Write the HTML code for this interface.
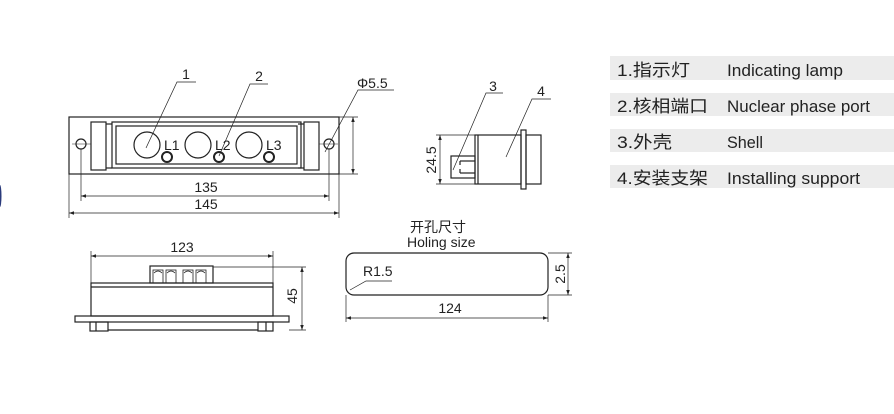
<!DOCTYPE html>
<html><head><meta charset="utf-8"><style>
html,body{margin:0;padding:0;background:#fff;}
svg{display:block;}
text{font-family:"Liberation Sans","Noto Sans CJK SC",sans-serif;fill:#222;}
</style></head><body>
<svg width="894" height="414" viewBox="0 0 894 414" xmlns="http://www.w3.org/2000/svg">
<defs>
<marker id="a" viewBox="0 0 10 10" refX="10" refY="5" markerWidth="7" markerHeight="5" orient="auto-start-reverse" markerUnits="userSpaceOnUse"><path d="M0,1.5 L10,5 L0,8.5 z" fill="#222"/></marker>
</defs>
<ellipse cx="0" cy="196" rx="1.5" ry="11" fill="#2a3a7b"/>
<g fill="none" stroke="#222" stroke-width="1.2">
<rect x="69" y="117" width="270" height="57"/>
<rect x="91" y="122" width="15" height="48"/>
<rect x="304" y="122" width="15" height="48"/>
<line x1="106" y1="124" x2="112" y2="124"/><line x1="106" y1="168" x2="112" y2="168"/>
<line x1="298" y1="124" x2="304" y2="124"/><line x1="298" y1="168" x2="304" y2="168"/>
<rect x="112" y="122" width="189" height="46"/>
<rect x="116" y="126" width="181" height="38"/>
<circle cx="147" cy="145" r="13"/><circle cx="198" cy="145" r="13"/><circle cx="249" cy="145" r="13"/>
<circle cx="167" cy="157" r="5" stroke-width="2"/><circle cx="219" cy="157" r="5" stroke-width="2"/><circle cx="269" cy="157" r="5" stroke-width="2"/>
<circle cx="81" cy="144" r="5"/><circle cx="329" cy="144" r="5"/>
<line x1="72" y1="144" x2="91" y2="144" stroke-width="0.6"/><line x1="319" y1="144" x2="338" y2="144" stroke-width="0.6"/>
<g stroke-width="0.7">
<polyline points="146,148 177,82 196,82"/>
<polyline points="219,156 250,84 268,84"/>
<polyline points="325,152 358,90 394,90"/>
<line x1="339" y1="117" x2="358" y2="117"/><line x1="339" y1="174" x2="358" y2="174"/>
<line x1="353" y1="117" x2="353" y2="174" marker-start="url(#a)" marker-end="url(#a)"/>
<line x1="81" y1="149" x2="81" y2="201"/><line x1="329" y1="149" x2="329" y2="201"/>
<line x1="81" y1="196" x2="329" y2="196" marker-start="url(#a)" marker-end="url(#a)"/>
<line x1="69" y1="174" x2="69" y2="218"/><line x1="339" y1="174" x2="339" y2="218"/>
<line x1="69" y1="213" x2="339" y2="213" marker-start="url(#a)" marker-end="url(#a)"/>
</g>
<rect x="91" y="283" width="182" height="33"/>
<line x1="91" y1="287" x2="273" y2="287"/>
<rect x="75" y="316" width="214" height="6"/>
<rect x="90" y="322" width="18" height="9"/><rect x="258" y="322" width="15" height="9"/>
<line x1="108" y1="330" x2="258" y2="330"/>
<line x1="96" y1="322" x2="96" y2="331"/><line x1="266" y1="322" x2="266" y2="331"/>
<rect x="150" y="266" width="63" height="17"/>
<g stroke-width="0.8">
<rect x="153" y="270" width="10" height="13"/><rect x="166" y="270" width="10" height="13"/><rect x="183" y="270" width="10" height="13"/><rect x="196" y="270" width="10" height="13"/>
<path d="M154,273 q4,-4 8,0 M167,273 q4,-4 8,0 M184,273 q4,-4 8,0 M197,273 q4,-4 8,0"/>
</g>
<g stroke-width="0.7">
<line x1="91" y1="283" x2="91" y2="251"/><line x1="273" y1="283" x2="273" y2="251"/>
<line x1="91" y1="256" x2="273" y2="256" marker-start="url(#a)" marker-end="url(#a)"/>
<line x1="213" y1="267" x2="306" y2="267"/><line x1="289" y1="330" x2="306" y2="330"/>
<line x1="302" y1="267" x2="302" y2="330" marker-start="url(#a)" marker-end="url(#a)"/>
</g>
<rect x="451" y="156" width="24" height="22"/>
<line x1="460" y1="161" x2="475" y2="161"/><line x1="460" y1="173" x2="475" y2="173"/>
<line x1="460" y1="161" x2="460" y2="165"/><line x1="460" y1="169" x2="460" y2="173"/>
<rect x="475" y="135" width="46" height="49"/>
<line x1="478" y1="135" x2="478" y2="184"/>
<rect x="521" y="130" width="5" height="59"/>
<rect x="526" y="135" width="15" height="49"/>
<g stroke-width="0.7">
<line x1="436" y1="135" x2="475" y2="135"/><line x1="436" y1="184" x2="475" y2="184"/>
<line x1="440" y1="135" x2="440" y2="184" marker-start="url(#a)" marker-end="url(#a)"/>
<polyline points="453,170 486,93 503,93"/>
<polyline points="506,157 532,99 551,99"/>
</g>
<rect x="346" y="253" width="202" height="42" rx="8"/>
<g stroke-width="0.7">
<polyline points="350,290 366,281 392,281"/>
<line x1="548" y1="253" x2="572" y2="253"/><line x1="548" y1="295" x2="572" y2="295"/>
<line x1="568" y1="253" x2="568" y2="295" marker-start="url(#a)" marker-end="url(#a)"/>
<line x1="346" y1="295" x2="346" y2="322"/><line x1="548" y1="295" x2="548" y2="322"/>
<line x1="346" y1="318" x2="548" y2="318" marker-start="url(#a)" marker-end="url(#a)"/>
</g>
</g>
<g font-size="14">
<text x="186" y="79" text-anchor="middle">1</text>
<text x="259" y="81" text-anchor="middle">2</text>
<text x="357" y="88">Φ5.5</text>
<text x="164" y="150">L1</text><text x="215" y="150">L2</text><text x="266" y="150">L3</text>
<text x="206" y="192" text-anchor="middle">135</text>
<text x="206" y="209" text-anchor="middle">145</text>
<text x="182" y="252" text-anchor="middle">123</text>
<text transform="translate(297,296) rotate(-90)" text-anchor="middle">45</text>
<text x="493" y="91" text-anchor="middle">3</text>
<text x="541" y="96" text-anchor="middle">4</text>
<text transform="translate(436,160) rotate(-90)" text-anchor="middle">24.5</text>
<text x="410" y="232">开孔尺寸</text>
<text x="407" y="247">Holing size</text>
<text x="363" y="276">R1.5</text>
<text transform="translate(565,274) rotate(-90)" text-anchor="middle">2.5</text>
<text x="450" y="313" text-anchor="middle">124</text>
</g>
<g fill="#ececec">
<rect x="610" y="56" width="284" height="24"/>
<rect x="610" y="93" width="284" height="23"/>
<rect x="610" y="129" width="284" height="23"/>
<rect x="610" y="165" width="284" height="23"/>
</g>
<g font-size="17" style="fill:#333">
<text x="617" y="76" textLength="73" lengthAdjust="spacingAndGlyphs">1.指示灯</text>
<text x="727" y="76" textLength="116" lengthAdjust="spacingAndGlyphs">Indicating lamp</text>
<text x="617" y="112" textLength="91" lengthAdjust="spacingAndGlyphs">2.核相端口</text>
<text x="727" y="112" textLength="143" lengthAdjust="spacingAndGlyphs">Nuclear phase port</text>
<text x="617" y="148" textLength="55" lengthAdjust="spacingAndGlyphs">3.外壳</text>
<text x="727" y="148" textLength="36" lengthAdjust="spacingAndGlyphs">Shell</text>
<text x="617" y="184" textLength="91" lengthAdjust="spacingAndGlyphs">4.安装支架</text>
<text x="727" y="184" textLength="133" lengthAdjust="spacingAndGlyphs">Installing support</text>
</g>
</svg>
</body></html>
